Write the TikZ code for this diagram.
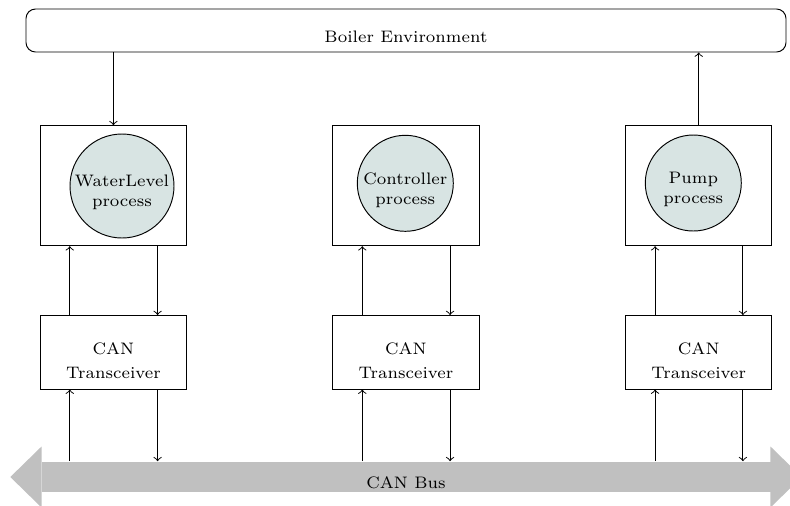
\documentclass[tikz,border=0pt]{standalone}
\usetikzlibrary{calc}
\definecolor{procfill}{RGB}{216,228,227}
\definecolor{busgray}{RGB}{192,192,192}
\newcommand\pxs{0.42}
\begin{document}
\begin{tikzpicture}[x=\pxs pt, y=-\pxs pt,
  txt/.style={font=\fontsize{7}{8.4}\selectfont},
  ttxt/.style={font=\fontsize{7}{10.1}\selectfont},
  envbox/.style={draw, rounded corners=4pt, minimum width=\pxs*760pt, minimum height=\pxs*43pt, inner sep=0pt},
  procbox/.style={draw, minimum width=\pxs*146.5pt, minimum height=\pxs*120pt, inner sep=0pt},
  proc/.style={draw, circle, fill=procfill, inner sep=0pt, minimum size=\pxs*96pt},
  trans/.style={draw, minimum width=\pxs*146.5pt, minimum height=\pxs*73.5pt, inner sep=0pt},
  conn/.style={->}
]
\clip (0,0) rectangle (790,505);
% environment
\node[envbox, label={[txt, yshift=-6.7*\pxs pt]center:Boiler Environment}] (env) at (406,30.5) {};
% process boxes
\node[procbox] (wlbox) at (113.4,185.7) {};
\node[procbox] (ctbox) at (405.9,185.7) {};
\node[procbox] (ppbox) at (698.7,185.7) {};
\node[proc, minimum size=\pxs*104pt, label={[txt, align=center, yshift=-6*\pxs pt]center:{WaterLevel\\process}}] (wl) at (122,186) {};
\node[proc, label={[txt, align=center, yshift=-6.5*\pxs pt]center:{Controller\\process}}] (ct) at (405.3,183.3) {};
\node[proc, label={[txt, align=center, yshift=-6.5*\pxs pt]center:{Pump\\process}}] (pp) at (693.3,183) {};
% transceivers
\node[trans, label={[ttxt, align=center, yshift=-8*\pxs pt]center:{CAN\\Transceiver}}] (wltr) at (113.4,352.3) {};
\node[trans, label={[ttxt, align=center, yshift=-8*\pxs pt]center:{CAN\\Transceiver}}] (cttr) at (405.9,352.3) {};
\node[trans, label={[ttxt, align=center, yshift=-8*\pxs pt]center:{CAN\\Transceiver}}] (pptr) at (698.7,352.3) {};
% bus
\node[fill=busgray, minimum width=\pxs*729pt, minimum height=\pxs*30.6pt, inner sep=0pt,
      label={[txt, yshift=-6*\pxs pt]center:CAN Bus}] (bus) at (406,477) {};
\fill[busgray] ($(bus.west)+(0.5,-30.5)$) -- ($(bus.west)+(-30.7,0)$) -- ($(bus.west)+(0.5,30.5)$) -- cycle;
\fill[busgray] ($(bus.east)+(-0.5,-30.5)$) -- ($(bus.east)+(30.7,0)$) -- ($(bus.east)+(-0.5,30.5)$) -- cycle;
% connectors
\draw[conn] (env.south -| wlbox.north) -- (wlbox.north);
\draw[conn] (ppbox.north) -- (ppbox.north |- env.south);
\foreach \n in {wl,ct,pp}{
  \coordinate (\n ul) at ($(\n tr.north)+(-43.6,0)$);
  \coordinate (\n ur) at ($(\n tr.north)+(44.2,0)$);
  \draw[conn] (\n ul) -- (\n ul |- \n box.south);
  \draw[conn] (\n ur |- \n box.south) -- (\n ur);
  \coordinate (\n bl) at ($(\n tr.south)+(-43.6,0)$);
  \coordinate (\n br) at ($(\n tr.south)+(44.2,0)$);
  \draw[conn] (\n bl |- bus.north) -- (\n bl);
  \draw[conn] (\n br) -- (\n br |- bus.north);
}
\end{tikzpicture}
\end{document}
